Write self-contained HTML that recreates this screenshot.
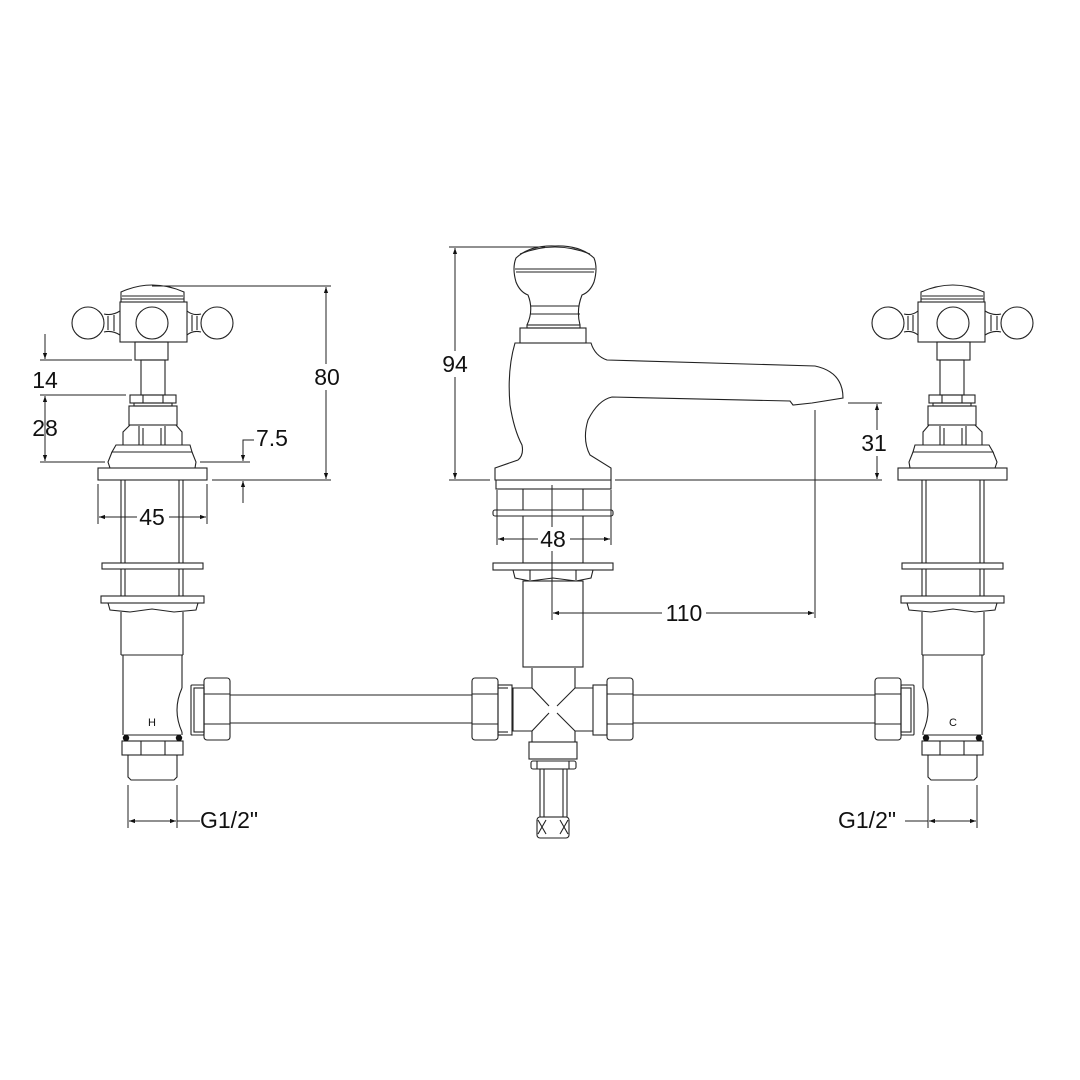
<!DOCTYPE html>
<html><head><meta charset="utf-8"><style>
html,body{margin:0;padding:0;background:#fff}
svg{display:block}
text{font-family:"Liberation Sans",sans-serif;fill:#111}
</style></head><body>
<svg width="1080" height="1080" viewBox="0 0 1080 1080" xmlns="http://www.w3.org/2000/svg">
<defs>
<marker id="a" viewBox="0 0 10 10" refX="10" refY="5" markerWidth="10" markerHeight="6" orient="auto-start-reverse" markerUnits="userSpaceOnUse"><path d="M0,1.5 L10,5 L0,8.5 Z" fill="#111"/></marker>
<g id="valve" fill="none" stroke="#222" stroke-width="1.1">
  <!-- dome cap -->
  <path d="M121,302 L121,292 Q152,278 184,292 L184,302"/>
  <line x1="122" y1="296" x2="183" y2="296"/><line x1="121" y1="299" x2="184" y2="299"/>
  <!-- handle body -->
  <rect x="120" y="302" width="67" height="40" fill="#fff"/>
  <circle cx="152" cy="323" r="16"/>
  <circle cx="88" cy="323" r="16"/>
  <circle cx="217" cy="323" r="16"/>
  <path d="M104,314 Q112,316 120,311 M104,332 Q112,330 120,335 M108,316 L108,330 M114,315 L114,331"/>
  <path d="M201,314 Q193,316 187,311 M201,332 Q193,330 187,335 M197,316 L197,330 M192,315 L192,331"/>
  <!-- stem -->
  <rect x="135" y="342" width="33" height="18"/>
  <rect x="141" y="360" width="24" height="35"/>
  <!-- small nut -->
  <rect x="130" y="395" width="46" height="8"/>
  <line x1="143" y1="395" x2="143" y2="403"/><line x1="163" y1="395" x2="163" y2="403"/>
  <rect x="134" y="403" width="38" height="3"/>
  <rect x="129" y="406" width="48" height="19"/>
  <!-- hex nut -->
  <path d="M123,445 L123,432 L130,425 L176,425 L182,432 L182,445 Z"/>
  <line x1="139" y1="426" x2="139" y2="445"/><line x1="143" y1="428" x2="143" y2="445"/>
  <line x1="161" y1="428" x2="161" y2="445"/><line x1="165" y1="426" x2="165" y2="445"/>
  <path d="M116,445 L190,445 L192,452 L112,452 Z"/>
  <path d="M112,452 L108,462 L110,468 M192,452 L196,462 L195,468"/>
  <rect x="98" y="468" width="109" height="12"/>
  <!-- body tube -->
  <line x1="121" y1="480" x2="121" y2="563"/><line x1="183" y1="480" x2="183" y2="563"/>
  <line x1="125" y1="480" x2="125" y2="563"/><line x1="179" y1="480" x2="179" y2="563"/>
  <rect x="102" y="563" width="101" height="6"/>
  <line x1="121" y1="569" x2="121" y2="596"/><line x1="183" y1="569" x2="183" y2="596"/>
  <line x1="125" y1="569" x2="125" y2="596"/><line x1="179" y1="569" x2="179" y2="596"/>
  <rect x="101" y="596" width="103" height="7"/>
  <path d="M108,603 L110,610 L130,612 L152,609 L174,612 L196,610 L198,603"/>
  <line x1="121" y1="612" x2="121" y2="655"/><line x1="183" y1="612" x2="183" y2="655"/>
  <line x1="121" y1="655" x2="183" y2="655"/>
  <line x1="123" y1="655" x2="123" y2="735"/><line x1="182" y1="655" x2="182" y2="688"/>
  <path d="M182,688 Q172,710 182,732"/>
  <line x1="182" y1="732" x2="182" y2="735"/>
  <!-- pipe union -->
  <rect x="191" y="685" width="13" height="50" rx="1"/>
  <rect x="194" y="688" width="10" height="44"/>
  <rect x="204" y="678" width="26" height="62" rx="3"/>
  <line x1="204" y1="694" x2="230" y2="694"/><line x1="204" y1="724" x2="230" y2="724"/>
  <!-- bottom fitting -->
  <line x1="124" y1="735" x2="181" y2="735"/>
  <rect x="122" y="741" width="61" height="14"/>
  <line x1="141" y1="741" x2="141" y2="755"/><line x1="165" y1="741" x2="165" y2="755"/>
  <path d="M128,755 L128,777 L131,780 L174,780 L177,777 L177,755"/>
  <circle cx="126" cy="738" r="3.2" fill="#111" stroke="none"/>
  <circle cx="179" cy="738" r="3.2" fill="#111" stroke="none"/>
</g>
</defs>

<use href="#valve"/>
<use href="#valve" transform="matrix(-1 0 0 1 1105 0)"/>

<g fill="none" stroke="#222" stroke-width="1.1">
  <!-- pipes -->
  <line x1="230" y1="695" x2="472" y2="695"/><line x1="230" y1="723" x2="472" y2="723"/>
  <line x1="633" y1="695" x2="875" y2="695"/><line x1="633" y1="723" x2="875" y2="723"/>
  <!-- center unions -->
  <rect x="472" y="678" width="26" height="62" rx="3"/>
  <line x1="472" y1="694" x2="498" y2="694"/><line x1="472" y1="724" x2="498" y2="724"/>
  <rect x="498" y="685" width="14" height="50"/><line x1="498" y1="688" x2="508" y2="688"/><line x1="498" y1="732" x2="508" y2="732"/>
  <rect x="607" y="678" width="26" height="62" rx="3"/>
  <line x1="607" y1="694" x2="633" y2="694"/><line x1="607" y1="724" x2="633" y2="724"/>
  <rect x="593" y="685" width="14" height="50"/>
  <!-- cross -->
  <path d="M532,668 L532,688 L513,688 L513,731 L532,731 L532,742 M575,668 L575,688 L593,688 M593,731 L575,731 L575,742"/>
  <line x1="532" y1="688" x2="549" y2="706"/><line x1="575" y1="688" x2="557" y2="706"/>
  <line x1="532" y1="731" x2="549" y2="713"/><line x1="575" y1="731" x2="557" y2="713"/>
  <rect x="529" y="742" width="48" height="17"/>
  <rect x="531" y="761" width="45" height="8" rx="2"/>
  <line x1="537" y1="761" x2="537" y2="769"/><line x1="569" y1="761" x2="569" y2="769"/>
  <rect x="540" y="769" width="27" height="48"/>
  <line x1="544" y1="769" x2="544" y2="817"/><line x1="563" y1="769" x2="563" y2="817"/>
  <rect x="537" y="817" width="32" height="21" rx="3"/>
  <path d="M538,820 L546,834 M546,820 L538,834 M560,820 L568,834 M568,820 L560,834"/>
  <!-- center body -->
  <rect x="523" y="480" width="60" height="83"/>
  <rect x="496" y="480" width="115" height="9" fill="#fff"/>
  <rect x="493" y="510" width="120" height="6" rx="2" fill="#fff"/>
  <rect x="493" y="563" width="120" height="7" fill="#fff"/>
  <path d="M513,570 L515,578 L530,581 L553,578 L576,581 L591,578 L593,570"/>
  <line x1="530" y1="570" x2="530" y2="580"/><line x1="576" y1="570" x2="576" y2="580"/>
  <rect x="523" y="581" width="60" height="86"/>
  <line x1="523" y1="667" x2="583" y2="667"/>
  <!-- spout -->
  <path d="M495,468 L495,480 L611,480 L611,468 L590,455 Q582,440 588,420 Q598,400 612,397 L790,401 L793,405 L812,403 L843,398 Q843,372 815,366 L607,360 Q595,356 591,343 L515,343 Q507,370 510,405 Q514,430 522,445 Q524,455 518,460 L495,468 Z" fill="#fff"/>
  <rect x="520" y="328" width="66" height="15"/>
  <rect x="527" y="325" width="53" height="3"/>
  <path d="M527,325 Q534,310 528,295 Q520,292 516,282 Q512,268 516,258 Q530,245 555,246 Q580,245 594,258 Q598,268 594,282 Q590,292 582,295 Q576,310 580,325"/>
  <line x1="515" y1="269" x2="595" y2="269"/><line x1="516" y1="272" x2="594" y2="272"/>
  <path d="M520,254 Q555,240 590,254"/>
  <line x1="531" y1="306" x2="579" y2="306"/><line x1="530" y1="314" x2="580" y2="314"/>
</g>

<!-- dimension lines -->
<g fill="none" stroke="#222" stroke-width="1">
  <!-- 80 -->
  <line x1="152" y1="286" x2="331" y2="286"/><line x1="212" y1="480" x2="331" y2="480"/>
  <line x1="326" y1="287" x2="326" y2="479" marker-start="url(#a)" marker-end="url(#a)"/>
  <!-- 94 -->
  <line x1="449" y1="247" x2="545" y2="247"/><line x1="449" y1="480" x2="490" y2="480"/>
  <line x1="455" y1="248" x2="455" y2="479" marker-start="url(#a)" marker-end="url(#a)"/>
  <!-- 31 -->
  <line x1="848" y1="403" x2="882" y2="403"/><line x1="615" y1="480" x2="882" y2="480"/>
  <line x1="877" y1="404" x2="877" y2="479" marker-start="url(#a)" marker-end="url(#a)"/>
  <!-- 14 / 28 -->
  <line x1="45" y1="334" x2="45" y2="359" marker-end="url(#a)"/>
  <line x1="40" y1="360" x2="132" y2="360"/>
  <line x1="40" y1="395" x2="126" y2="395"/>
  <line x1="45" y1="396" x2="45" y2="461" marker-start="url(#a)" marker-end="url(#a)"/>
  <line x1="40" y1="462" x2="105" y2="462"/>
  <!-- 7.5 -->
  <line x1="200" y1="462" x2="250" y2="462"/>
  <polyline points="254,440 243,440 243,461" marker-end="url(#a)"/>
  <line x1="243" y1="503" x2="243" y2="481" marker-end="url(#a)"/>
  <!-- 45 -->
  <line x1="98" y1="484" x2="98" y2="524"/><line x1="207" y1="484" x2="207" y2="524"/>
  <line x1="99" y1="517" x2="206" y2="517" marker-start="url(#a)" marker-end="url(#a)"/>
  <!-- 48 -->
  <line x1="497" y1="490" x2="497" y2="545"/><line x1="611" y1="490" x2="611" y2="545"/>
  <line x1="498" y1="539" x2="610" y2="539" marker-start="url(#a)" marker-end="url(#a)"/>
  <!-- 110 -->
  <line x1="552" y1="485" x2="552" y2="620"/><line x1="815" y1="410" x2="815" y2="618"/>
  <line x1="553" y1="613" x2="814" y2="613" marker-start="url(#a)" marker-end="url(#a)"/>
  <!-- G1/2 left -->
  <line x1="128" y1="785" x2="128" y2="828"/><line x1="177" y1="785" x2="177" y2="828"/>
  <line x1="129" y1="821" x2="176" y2="821" marker-start="url(#a)" marker-end="url(#a)"/>
  <line x1="177" y1="821" x2="200" y2="821"/>
  <!-- G1/2 right -->
  <line x1="928" y1="785" x2="928" y2="828"/><line x1="977" y1="785" x2="977" y2="828"/>
  <line x1="929" y1="821" x2="976" y2="821" marker-start="url(#a)" marker-end="url(#a)"/>
  <line x1="905" y1="821" x2="928" y2="821"/>
</g>

<g font-size="23">
  <rect x="312" y="364" width="30" height="26" fill="#fff"/>
  <text x="327" y="385" text-anchor="middle">80</text>
  <rect x="440" y="351" width="30" height="26" fill="#fff"/>
  <text x="455" y="372" text-anchor="middle">94</text>
  <rect x="860" y="430" width="30" height="26" fill="#fff"/>
  <text x="874" y="451" text-anchor="middle">31</text>
  <text x="45" y="388" text-anchor="middle">14</text>
  <text x="45" y="436" text-anchor="middle">28</text>
  <text x="256" y="446">7.5</text>
  <rect x="137" y="505" width="32" height="26" fill="#fff"/>
  <text x="152" y="525" text-anchor="middle">45</text>
  <rect x="538" y="527" width="32" height="24" fill="#fff"/>
  <text x="553" y="547" text-anchor="middle">48</text>
  <rect x="662" y="600" width="44" height="26" fill="#fff"/>
  <text x="684" y="621" text-anchor="middle">110</text>
  <text x="200" y="828">G1/2"</text>
  <text x="838" y="828">G1/2"</text>
</g>
<g font-size="11">
  <text x="152" y="726" text-anchor="middle">H</text>
  <text x="953" y="726" text-anchor="middle">C</text>
</g>
</svg>
</body></html>
